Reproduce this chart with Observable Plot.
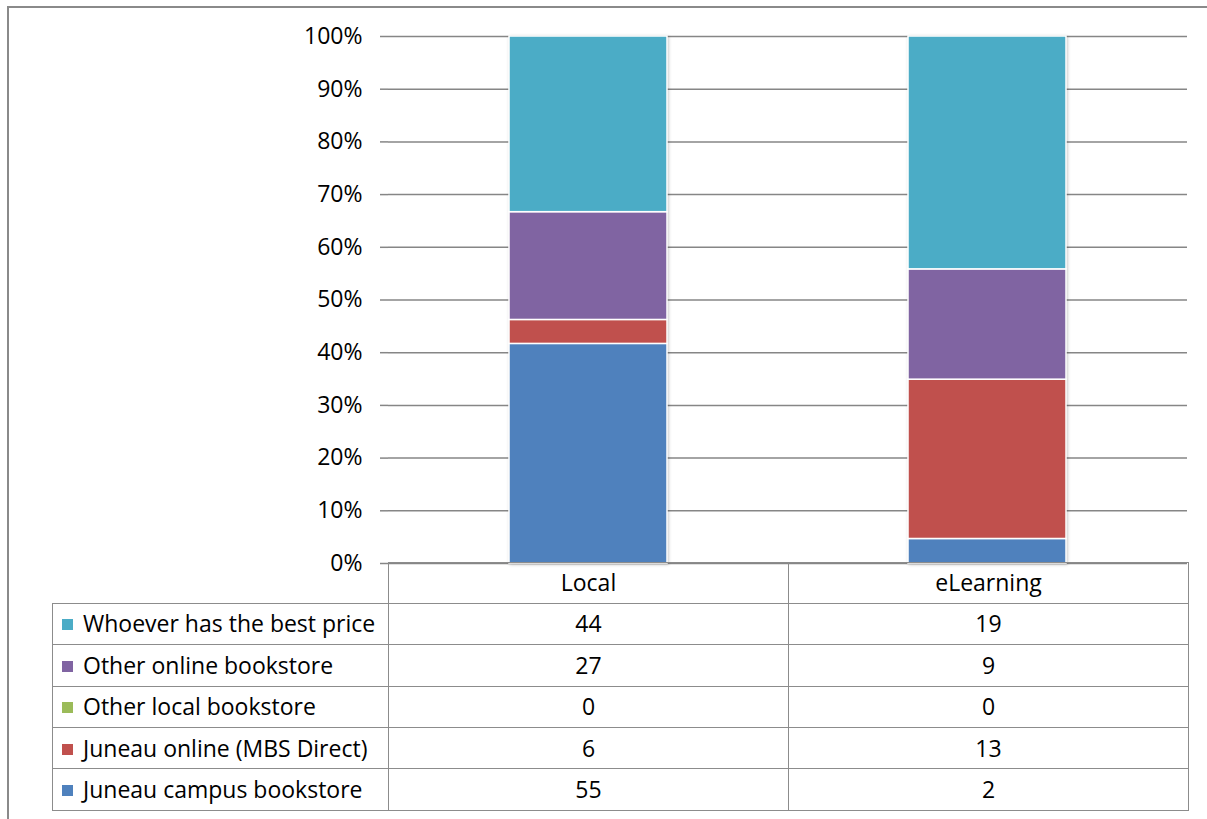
<!DOCTYPE html>
<html>
<head>
<meta charset="utf-8">
<script src="https://cdn.jsdelivr.net/npm/d3@7"></script>
<script src="https://cdn.jsdelivr.net/npm/@observablehq/plot@0.6"></script>
<style>
  html, body { margin: 0; padding: 0; background: #fff; }
  #wrap { position: relative; width: 1207px; height: 819px; overflow: hidden; font-family: "Open Sans", sans-serif; }
  #frame { position: absolute; left: 7px; top: 6px; width: 1300px; height: 900px; border-top: 2px solid #8a8a8a; border-left: 2px solid #8a8a8a; }
  #chart { position: absolute; left: 0; top: 0; }
  #tbl { position: absolute; left: 52px; top: 562px; border-collapse: collapse; table-layout: fixed; font-size: 23px; color: #000; }
  #tbl td { border: 1.5px solid #8c8c8c; padding: 0; white-space: nowrap; line-height: 1; }
  #tbl tr.head td { height: 39.8px; text-align: center; }
  #tbl tr.head td.blank { border-top: none; border-left: none; border-bottom: 1.5px solid #8c8c8c; }
  #tbl tr.row td { height: 40.4px; text-align: center; }
  #tbl tr.row td.lab { text-align: left; padding-left: 9px; }
  .sw { display: inline-block; width: 11px; height: 11px; margin-right: 10px; vertical-align: 2px; }
  g[aria-label="bar"] { filter: drop-shadow(1.5px 1px 1.5px rgba(0,0,0,0.22)); }
</style>
</head>
<body>
<div id="wrap">
  <div id="frame"></div>
  <div id="chart"></div>
  <table id="tbl"></table>
</div>
<script>
const categories = ["Local", "eLearning"];
const series = ["Juneau campus bookstore", "Juneau online (MBS Direct)", "Other local bookstore", "Other online bookstore", "Whoever has the best price"];
const localValues = [55, 6, 0, 27, 44];
const eLearningValues = [2, 13, 0, 9, 19];
const seriesColors = ["#4F81BD", "#C0504D", "#9BBB59", "#8064A2", "#4BACC6"];
const yTicks = [0, 0.1, 0.2, 0.3, 0.4, 0.5, 0.6, 0.7, 0.8, 0.9, 1];

const valuesByCategory = { "Local": localValues, "eLearning": eLearningValues };
const data = [];
for (const c of categories) {
  series.forEach((s, i) => data.push({ category: c, series: s, value: valuesByCategory[c][i] }));
}

const plot = Plot.plot({
  width: 1207,
  height: 819,
  marginLeft: 388,
  marginRight: 20,
  marginTop: 36,
  marginBottom: 256,
  style: { fontFamily: "'Open Sans', sans-serif", fontSize: "23px", color: "#000", background: "transparent" },
  x: { domain: categories, paddingInner: 0.605, paddingOuter: 0.3025, axis: null },
  y: { domain: [0, 1], axis: null, label: null },
  color: { domain: series, range: seriesColors },
  marks: [
    Plot.ruleY(yTicks, { y: d => d, stroke: "#868686", strokeWidth: 1.5 }),
    Plot.barY(data.filter(d => d.value > 0), Plot.stackY({
      x: "category", y: "value", fill: "series", offset: "normalize", order: null,
      stroke: "#fff", strokeWidth: 1.5
    })),
    Plot.axisY(yTicks, { label: null, tickSize: 8, tickPadding: 18, stroke: "#868686", strokeWidth: 1.5, tickFormat: d => Math.round(d * 100) + "%", fontSize: 23, fill: "#000" }),
    Plot.ruleX([0], { x: () => 0, frameAnchor: "left", stroke: "#868686", strokeWidth: 1.5 })
  ]
});
document.getElementById("chart").appendChild(plot);

// data table below the plot
const tbl = document.getElementById("tbl");
const colgroup = document.createElement("colgroup");
[336, 400, 400].forEach(w => { const col = document.createElement("col"); col.style.width = w + "px"; colgroup.appendChild(col); });
tbl.appendChild(colgroup);
const head = document.createElement("tr");
head.className = "head";
const blank = document.createElement("td"); blank.className = "blank"; head.appendChild(blank);
categories.forEach(c => { const td = document.createElement("td"); td.textContent = c; head.appendChild(td); });
tbl.appendChild(head);
for (let i = series.length - 1; i >= 0; i--) {
  const tr = document.createElement("tr"); tr.className = "row";
  const lab = document.createElement("td"); lab.className = "lab";
  const sw = document.createElement("span"); sw.className = "sw"; sw.style.background = seriesColors[i];
  lab.appendChild(sw); lab.appendChild(document.createTextNode(series[i]));
  tr.appendChild(lab);
  categories.forEach(c => { const td = document.createElement("td"); td.textContent = valuesByCategory[c][i]; tr.appendChild(td); });
  tbl.appendChild(tr);
}
</script>
</body>
</html>
